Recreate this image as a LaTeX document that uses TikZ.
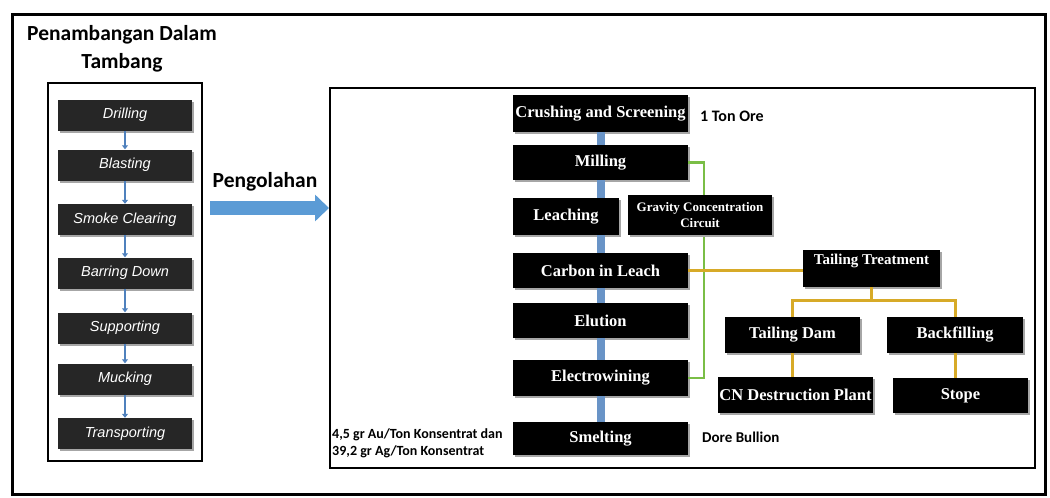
\documentclass[tikz,border=0pt]{standalone}
\usepackage{fontspec}
\setmainfont{Liberation Serif}
\newfontfamily\arialfont{Liberation Sans}
\newfontfamily\calibrifont{Carlito}
\usetikzlibrary{arrows.meta,shadows}

\definecolor{flowblue}{RGB}{79,129,189}
\definecolor{arrowblue}{RGB}{91,155,213}
\definecolor{leafgreen}{RGB}{122,190,70}
\definecolor{tailgold}{RGB}{215,170,40}

\begin{document}
\begin{tikzpicture}[x=1pt, y=-1pt,
    boxshadow/.style={drop shadow={shadow xshift=1.5pt, shadow yshift=-2pt, fill=black!35, opacity=1}},
    minestep/.style={fill=black!85, text=white, minimum width=134, minimum height=31, inner sep=1pt,
        font=\arialfont\itshape\fontsize{14.5}{16}\selectfont, boxshadow},
    procstep/.style={fill=black, text=white, minimum height=35, inner sep=1pt,
        font=\bfseries\fontsize{16.5}{18}\selectfont, boxshadow},
    smallstep/.style={procstep, font=\bfseries\fontsize{13}{16}\selectfont, align=center},
    minearrow/.style={flowblue, line width=2pt, -{Triangle[length=4pt,width=6pt]}},
    procflow/.style={flowblue!85!white, line width=8pt},
    greenline/.style={leafgreen, line width=2.5pt},
    goldline/.style={tailgold, line width=3pt},
    note/.style={font=\calibrifont\bfseries\fontsize{16}{17}\selectfont, inner sep=0pt}
]
\useasboundingbox (0,0) rectangle (1050,498);

% frames
\draw[line width=3pt] (12,14) rectangle (1045,494);
\node[draw, line width=2.5pt, minimum width=154, minimum height=378] (minebox) at (125,272) {};
\node[draw, line width=2pt, minimum width=705, minimum height=380] (procbox) at (682.5,278) {};

% underground mining
\node[font=\calibrifont\bfseries\fontsize{21.5}{28}\selectfont, align=center] (minetitle) at (122,49)
    {Penambangan Dalam\\Tambang};
\node[minestep] (drill) at (125,115) {Drilling};
\node[minestep] (blast) at (125,165) {Blasting};
\node[minestep] (smoke) at (125,219.5) {Smoke Clearing};
\node[minestep] (barring) at (125,273) {Barring Down};
\node[minestep] (support) at (125,328) {Supporting};
\node[minestep] (muck) at (125,379) {Mucking};
\node[minestep] (transport) at (125,433.5) {Transporting};
\draw[minearrow] (drill) -- (blast);
\draw[minearrow] (blast) -- (smoke);
\draw[minearrow] (smoke) -- (barring);
\draw[minearrow] (barring) -- (support);
\draw[minearrow] (support) -- (muck);
\draw[minearrow] (muck) -- (transport);

% to processing
\coordinate (arrowstart) at (210,208);
\draw[arrowblue, line width=14pt, -{Triangle[length=14pt,width=26pt]}] (arrowstart) -- (procbox.west |- arrowstart);
\node[font=\calibrifont\bfseries\fontsize{21.5}{24}\selectfont] (proctitle) at (265,182) {Pengolahan};

% processing column
\node[procstep, minimum width=175, minimum height=37] (crush) at (600.5,113.5) {Crushing and Screening};
\node[procstep, minimum width=175] (mill) at (600.5,162.5) {Milling};
\node[procstep, minimum width=106, minimum height=37] (leach) at (566,216.5) {Leaching};
\node[procstep, minimum width=175] (cil) at (600.5,270.5) {Carbon in Leach};
\node[procstep, minimum width=175] (elution) at (600.5,320.5) {Elution};
\node[procstep, minimum width=175, minimum height=36] (electro) at (600.5,378) {Electrowining};
\node[procstep, minimum width=175, minimum height=33] (smelt) at (600.5,438.5) {Smelting};
\draw[procflow] (crush.south) -- (mill.north);
\draw[procflow] (mill.south) -- (mill.south |- leach.north);
\draw[procflow] (cil.north) -- (cil.north |- leach.south);
\draw[procflow] (cil.south) -- (elution.north);
\draw[procflow] (elution.south) -- (electro.north);
\draw[procflow] (electro.south) -- (smelt.north);

% gravity circuit
\draw[greenline] (mill.east) -- ++(16,0) |- (electro.east);
\node[smallstep, minimum width=144, minimum height=40] (gravity) at (700,215)
    {Gravity Concentration\\Circuit};

% tailing
\node[smallstep, font=\bfseries\fontsize{15}{17}\selectfont, minimum width=137, minimum height=37,
    text depth=18pt] (tailtreat) at (871.5,268.5) {Tailing Treatment};
\node[procstep, minimum width=135, minimum height=36] (taildam) at (792.5,335) {Tailing Dam};
\node[procstep, minimum width=136, minimum height=36] (backfill) at (955,335) {Backfilling};
\node[procstep, minimum width=155, minimum height=36] (cnplant) at (795.5,395) {CN Destruction Plant};
\node[procstep, minimum width=135, minimum height=35] (stope) at (960.5,395.5) {Stope};
\draw[goldline] (cil.east) -- (tailtreat.west |- cil.east);
\draw[goldline] (tailtreat.south) -- ++(0,13) -| (taildam.north);
\draw[goldline] (tailtreat.south) -- ++(0,13) -| (backfill.north);
\draw[goldline] (taildam) -- (taildam |- cnplant.north);
\draw[goldline] (backfill) -- (backfill |- stope.north);

% amounts
\node[note, anchor=west] (ore) at (700,116) {1 Ton Ore};
\node[note, font=\calibrifont\bfseries\fontsize{15}{17}\selectfont, anchor=west] (dore) at (702,437) {Dore Bullion};
\node[note, font=\calibrifont\bfseries\fontsize{14}{17}\selectfont, anchor=west, align=left] (konsentrat) at (332,443)
    {4,5 gr Au/Ton Konsentrat dan\\39,2 gr Ag/Ton Konsentrat};
\end{tikzpicture}
\end{document}
